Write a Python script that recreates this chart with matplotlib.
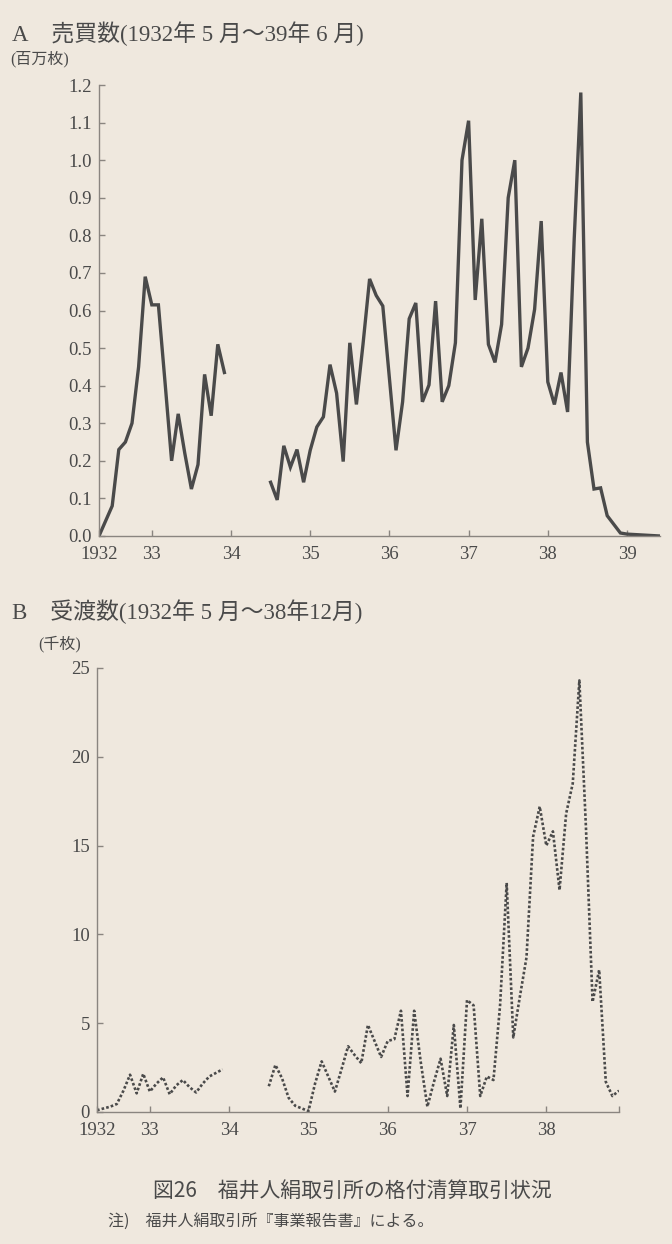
import numpy as np
import matplotlib.pyplot as plt

# 月次インデックス: 0 = 1932年5月
nan = np.nan

# A 売買数 (百万枚) 1932年5月～1933年12月, 1934年7月～1939年6月
uri_1 = [0.0, 0.04, 0.08, 0.23, 0.25, 0.30, 0.45, 0.69, 0.615, 0.615,
         0.41, 0.20, 0.325, 0.22, 0.125, 0.19, 0.43, 0.32, 0.51, 0.435]
uri_2 = [0.143, 0.096, 0.24, 0.183, 0.23, 0.143, 0.228, 0.29, 0.317, 0.456,
         0.38, 0.198, 0.514, 0.35, 0.51, 0.684, 0.64, 0.612, 0.42, 0.228,
         0.357, 0.578, 0.62, 0.357, 0.402, 0.625, 0.357, 0.40, 0.514, 1.0,
         1.105, 0.628, 0.844, 0.51, 0.462, 0.563, 0.90, 1.0, 0.45, 0.50,
         0.603, 0.838, 0.41, 0.35, 0.435, 0.33, 0.79, 1.18, 0.25, 0.125,
         0.128, 0.054, 0.031, 0.008, 0.005, 0.004, 0.003, 0.002, 0.001, 0.0]

# B 受渡数 (千枚) 1932年5月～1933年12月, 1934年7月～1938年12月
uke_1 = [0.1, 0.2, 0.3, 0.45, 1.2, 2.1, 1.05, 2.15, 1.15, 1.6,
         1.95, 1.0, 1.5, 1.8, 1.4, 1.1, 1.6, 2.0, 2.2, 2.4]
uke_2 = [1.45, 2.65, 1.9, 0.8, 0.35, 0.2, 0.05, 1.6, 2.85, 2.0,
         1.15, 2.4, 3.7, 3.2, 2.75, 4.9, 4.0, 3.1, 4.0, 4.1,
         5.7, 0.9, 5.7, 2.8, 0.3, 1.7, 3.0, 0.9, 4.9, 0.2,
         6.3, 6.0, 0.9, 2.0, 1.8, 6.0, 12.9, 4.2, 6.5, 8.7,
         15.5, 17.2, 15.0, 15.8, 12.5, 16.8, 18.5, 24.3, 16.0, 6.2,
         8.0, 1.7, 0.9, 1.2]

gap = [nan] * 6
uri = np.array(uri_1 + gap + uri_2)
uke = np.array(uke_1 + gap + uke_2)
tsuki_a = np.arange(len(uri))
tsuki_b = np.arange(len(uke))

nen_a = [0, 8, 20, 32, 44, 56, 68, 80]
nen_a_labels = ["1932", "33", "34", "35", "36", "37", "38", "39"]
nen_b = [0, 8, 20, 32, 44, 56, 68, 79]
nen_b_labels = ["1932", "33", "34", "35", "36", "37", "38", ""]

bg = "#efe8de"
ink = "#4a4a4a"
axc = "#8a8580"
serif = ["Liberation Serif", "Noto Sans CJK JP"]
gothic = ["Noto Sans CJK JP", "DejaVu Sans"]

W, H = 672, 1244
fig = plt.figure(figsize=(W / 100, H / 100), dpi=100)
fig.set_facecolor(bg)


def style_axes(ax):
    ax.set_facecolor(bg)
    for s in ["top", "right"]:
        ax.spines[s].set_visible(False)
    for s in ["left", "bottom"]:
        ax.spines[s].set_color(axc)
        ax.spines[s].set_linewidth(1.0)
    ax.tick_params(direction="in", length=4, width=1.0, color=axc,
                   labelcolor=ink, labelsize=13.5)
    ax.tick_params(axis="x", pad=7)
    ax.tick_params(axis="y", pad=5)
    for lab in ax.get_xticklabels() + ax.get_yticklabels():
        lab.set_family(serif)


# パネルA
ax1 = fig.add_axes([99 / W, 1 - 536 / H, (660 - 99) / W, (536 - 85) / H])
ax1.plot(tsuki_a, uri, color=ink, lw=2.4, solid_joinstyle="miter")
ax1.set_xlim(0, 85)
ax1.set_ylim(0, 1.2)
ax1.set_yticks(np.arange(0, 1.21, 0.1))
ax1.set_yticklabels([f"{v:.1f}" for v in np.arange(0, 1.21, 0.1)])
ax1.set_xticks(nen_a)
ax1.set_xticklabels(nen_a_labels)
style_axes(ax1)

# パネルB
ax2 = fig.add_axes([97 / W, 1 - 1112 / H, (619 - 97) / W, (1112 - 668) / H])
ax2.plot(tsuki_b, uke, color=ink, lw=1.9, linestyle=(0, (1, 0.8)))
ax2.set_xlim(0, 79)
ax2.set_ylim(0, 25)
ax2.set_yticks([0, 5, 10, 15, 20, 25])
ax2.set_xticks(nen_b)
ax2.set_xticklabels(nen_b_labels)
style_axes(ax2)

# 見出し
fig.text(12 / W, 1 - 34 / H, "A　売買数(1932年 5 月～39年 6 月)",
         family=serif, fontsize=16.5, color=ink, va="center")
fig.text(10 / W, 1 - 59 / H, "(百万枚)", family=serif, fontsize=11.5,
         color=ink, va="center")
fig.text(12 / W, 1 - 612 / H, "B　受渡数(1932年 5 月～38年12月)",
         family=serif, fontsize=16.5, color=ink, va="center")
fig.text(38 / W, 1 - 644 / H, "(千枚)", family=serif, fontsize=11.5,
         color=ink, va="center")

fig.text(352 / W, 1 - 1192 / H, "図26　福井人絹取引所の格付清算取引状況",
         family=gothic, fontsize=15, color=ink, ha="center", va="center")
fig.text(108 / W, 1 - 1221 / H, "注)　福井人絹取引所『事業報告書』による。",
         family=gothic, fontsize=11.5, color=ink, va="center")

fig.savefig("out.png", dpi=100, facecolor=bg)
